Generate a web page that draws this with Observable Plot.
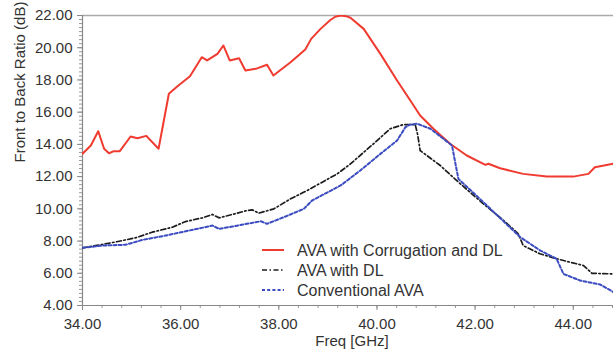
<!DOCTYPE html>
<html><head><meta charset="utf-8">
<script src="https://cdn.jsdelivr.net/npm/d3@7"></script>
<script src="https://cdn.jsdelivr.net/npm/@observablehq/plot@0.6"></script>
<style>
body{margin:0;background:#fff;}
#chart{position:relative;width:613px;height:358px;overflow:hidden;}
</style>
</head><body><div id="chart"></div>
<script>
// ---- data ----
const seriesNames = ["AVA with Corrugation and DL", "AVA with DL", "Conventional AVA"];

const corrFreq  = [34.0, 34.17, 34.32, 34.44, 34.54, 34.64, 34.76, 34.98, 35.12, 35.30, 35.55, 35.76, 35.93, 36.19, 36.43, 36.54, 36.75, 36.87, 37.0, 37.19, 37.32, 37.53, 37.76, 37.89, 38.24, 38.54, 38.66, 38.85, 39.05, 39.15, 39.26, 39.37, 39.46, 39.73, 40.07, 40.41, 40.68, 40.88, 41.15, 41.49, 41.83, 42.21, 42.27, 42.51, 42.98, 43.46, 44.0, 44.31, 44.44, 44.82];
const corrRatio = [13.42, 13.93, 14.82, 13.73, 13.45, 13.58, 13.58, 14.49, 14.38, 14.53, 13.73, 17.14, 17.59, 18.23, 19.41, 19.21, 19.62, 20.14, 19.21, 19.35, 18.59, 18.69, 18.94, 18.28, 19.10, 19.89, 20.55, 21.17, 21.72, 21.92, 22.0, 21.96, 21.86, 21.17, 19.62, 17.97, 16.72, 15.79, 14.97, 14.04, 13.31, 12.73, 12.80, 12.52, 12.17, 12.0, 12.0, 12.17, 12.58, 12.80];

const dlFreq  = [34.0, 34.41, 34.75, 35.08, 35.42, 35.83, 36.10, 36.44, 36.65, 36.78, 37.05, 37.36, 37.46, 37.59, 37.90, 38.24, 38.58, 39.19, 39.46, 39.93, 40.27, 40.54, 40.78, 40.83, 40.88, 41.29, 41.70, 42.17, 42.58, 42.88, 42.98, 43.32, 43.66, 44.21, 44.38, 44.82];
const dlRatio = [7.58, 7.79, 7.99, 8.20, 8.55, 8.86, 9.21, 9.44, 9.65, 9.44, 9.65, 9.90, 9.94, 9.73, 10.0, 10.62, 11.14, 12.17, 12.79, 14.04, 14.97, 15.23, 15.23, 14.6, 13.62, 12.69, 11.55, 10.31, 9.28, 8.45, 7.72, 7.21, 6.90, 6.48, 6.0, 5.96];

const convFreq  = [34.0, 34.41, 34.88, 35.22, 35.69, 36.17, 36.65, 36.78, 37.05, 37.53, 37.63, 37.76, 38.10, 38.51, 38.68, 39.26, 39.66, 40.07, 40.41, 40.58, 40.68, 40.82, 41.09, 41.53, 41.60, 41.66, 42.17, 42.92, 43.33, 43.66, 43.80, 44.14, 44.55, 44.82];
const convRatio = [7.58, 7.72, 7.77, 8.07, 8.34, 8.65, 8.96, 8.76, 8.90, 9.17, 9.23, 9.07, 9.48, 10.0, 10.52, 11.45, 12.38, 13.41, 14.24, 15.07, 15.23, 15.28, 14.97, 13.93, 12.79, 11.86, 10.41, 8.24, 7.41, 6.90, 5.96, 5.55, 5.30, 4.83];

const yMajorTicks = [4, 6, 8, 10, 12, 14, 16, 18, 20, 22];
const xMajorTicks = [34, 36, 38, 40, 42, 44];
const xLabel = "Freq [GHz]";
const yLabel = "Front to Back Ratio (dB)";

// ---- styles ----
const styles = [
  {stroke: "#ef3b30", width: 2, dash: "none"},
  {stroke: "#1c1c1c", width: 1.7, dash: "5,2.5,1.5,2.5"},
  {stroke: "#3b4cc0", width: 2, dash: "3,2.2"}
];
const font = "'Liberation Sans', Arial, sans-serif";

const freqs = [corrFreq, dlFreq, convFreq];
const ratios = [corrRatio, dlRatio, convRatio];
const tables = seriesNames.map((name, i) => freqs[i].map((f, j) => ({name, f, v: ratios[i][j]})));

const yMinorTicks = d3.range(0, 73).map(i => 4 + i * 0.25);
const xMinorTicks = d3.range(0, 28).map(i => 34 + i * 0.4);

const svg = Plot.plot({
  width: 613, height: 358,
  marginLeft: 82, marginRight: 0, marginTop: 15, marginBottom: 53,
  x: {domain: [34, 44.82], label: null},
  y: {domain: [4, 22], label: null},
  style: {fontFamily: font, fontSize: "15px", color: "#333", background: "#fff"},
  marks: [
    Plot.ruleY([22], {stroke: "#aaa", strokeWidth: 1.5}),
    Plot.axisY(yMinorTicks, {tickSize: 3, tickFormat: () => "", stroke: "#999", label: null}),
    Plot.axisY(yMajorTicks, {tickSize: 5, tickPadding: 5, tickFormat: d => d.toFixed(2), stroke: "#888", label: null, fontSize: 15}),
    Plot.axisX(xMinorTicks, {tickSize: 3, tickFormat: () => "", stroke: "#999", label: null}),
    Plot.axisX(xMajorTicks, {tickSize: 5, tickPadding: 8, tickFormat: d => d.toFixed(2), stroke: "#888", label: null, fontSize: 15}),
    Plot.ruleX([34], {stroke: "#888", strokeWidth: 1.2}),
    Plot.ruleY([4], {stroke: "#888", strokeWidth: 1.2}),
    ...tables.map((t, i) => Plot.line(t, {
      x: "f", y: "v", stroke: styles[i].stroke, strokeWidth: styles[i].width,
      strokeDasharray: styles[i].dash, strokeLinejoin: "round", clip: true
    })),
    Plot.text([yLabel], {frameAnchor: "left", rotate: -90, dx: -62, dy: 2, fontSize: 15, fill: "#333"}),
    Plot.text([xLabel], {frameAnchor: "bottom", dy: 40, dx: 4, fontSize: 15, fill: "#333"})
  ]
});

// legend
const lg = d3.select(svg).append("g").attr("font-family", font).attr("font-size", 16)
  .attr("fill", "#333").attr("text-anchor", "start");
seriesNames.forEach((name, i) => {
  const y = 250 + i * 20;
  lg.append("line").attr("x1", 262).attr("x2", 284).attr("y1", y).attr("y2", y)
    .attr("stroke", styles[i].stroke).attr("stroke-width", styles[i].width)
    .attr("stroke-dasharray", styles[i].dash);
  lg.append("text").attr("x", 297).attr("y", y).attr("dy", "0.35em")
    .attr("text-anchor", "start").text(name);
});

document.getElementById("chart").appendChild(svg);
</script>
</body></html>
